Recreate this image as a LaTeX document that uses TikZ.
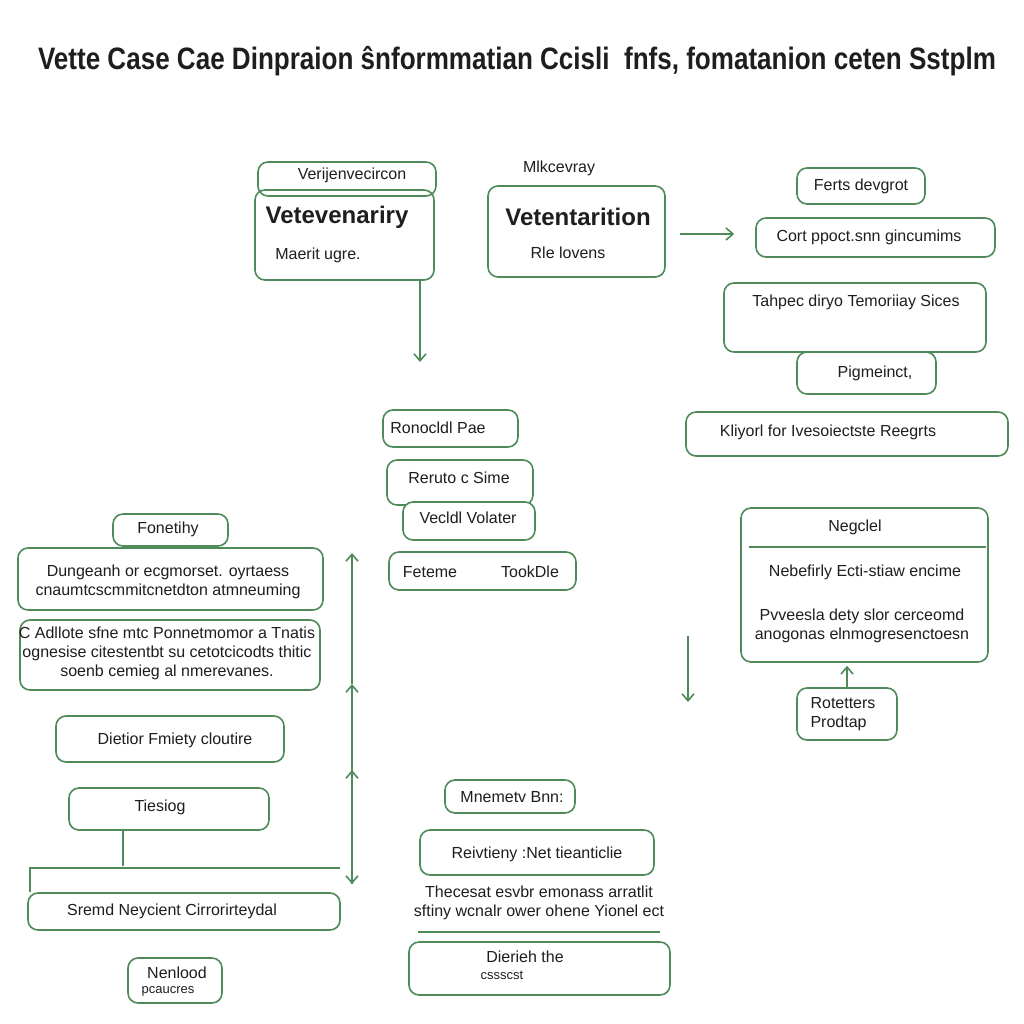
\documentclass[tikz,border=0pt]{standalone}
\usepackage{fontspec}
\setmainfont{Liberation Sans}
\usepackage{xcolor}
\usepackage{tikz}
\usetikzlibrary{arrows.meta, positioning, calc}
\definecolor{vetgreen}{HTML}{4E8A5A}
\definecolor{inkgray}{HTML}{1E1E1E}
\tikzstyle{card} = [draw=vetgreen, line width=1.6pt, rounded corners=10pt, inner sep=0pt]
\tikzstyle{txt} = [text=inkgray, font=\fontsize{16}{19}\selectfont, inner sep=0pt]
\tikzstyle{head} = [text=inkgray, font=\bfseries\fontsize{24}{28}\selectfont, inner sep=0pt]
\tikzstyle{small} = [text=inkgray, font=\fontsize{13}{16}\selectfont, inner sep=0pt]
\tikzstyle{link} = [draw=vetgreen, line width=1.6pt]
\tikzstyle{arrow} = [link, -{Straight Barb[length=7pt,width=12pt]}]

\begin{document}
\begin{tikzpicture}[x=1pt, y=-1pt]
        \useasboundingbox[fill=white] (0,0) rectangle (1024,1024);
        \node[text=inkgray, font=\bfseries\fontsize{31}{36}\selectfont] (title) at (517,61)
            {\scalebox{0.84}[1]{Vette Case Cae Dinpraion ŝnformmatian Ccisli\ \ fnfs, fomatanion ceten Sstplm}};

        % top left
        \node[card, minimum width=178pt, minimum height=34pt] (tabA) at (347,179) {};
        \node[txt] (tabAt) at (352,175) {Verijenvecircon};
        \node[card, minimum width=179pt, minimum height=90pt] (vetA) at (344.5,235) {};
        \node[head] (vetAh) at (337,217) {Vetevenariry};
        \node[txt] (vetAt) at (318,255) {Maerit ugre.};
        \coordinate (dropA) at (420,362);
        \draw[arrow] (vetA.south -| dropA) -- (dropA);

        \node[txt] (mlk) at (559,168) {Mlkcevray};
        \node[card, minimum width=177pt, minimum height=91pt] (vetB) at (576.5,231.5) {};
        \node[head] (vetBh) at (578,217) {Vetentarition};
        \node[txt] (vetBt) at (568,253) {Rle lovens};

        % right column
        \node[card, minimum width=128pt, minimum height=36pt] (ferts) at (861,186) {};
        \node[txt] (fertst) at (861,186) {Ferts devgrot};
        \node[card, minimum width=239pt, minimum height=39pt] (cort) at (875.5,237.5) {};
        \node[txt] (cortt) at (869,237) {Cort ppoct.snn gincumims};
        \coordinate (arrA) at (680,234);
        \draw[arrow, shorten >=21pt] (arrA) -- (arrA -| cort.west);
        \node[card, minimum width=262pt, minimum height=69pt] (tahp) at (855,317.5) {};
        \node[txt] (tahpt) at (856,302) {Tahpec diryo Temoriiay Sices};
        \node[card, minimum width=139pt, minimum height=42pt] (pigm) at (866.5,373) {};
        \node[txt] (pigmt) at (875,373) {Pigmeinct,};
        \node[card, minimum width=322pt, minimum height=44pt] (kliy) at (847,434) {};
        \node[txt] (kliyt) at (828,432) {Kliyorl for Ivesoiectste Reegrts};

        % middle column
        \node[card, minimum width=135pt, minimum height=37pt] (ronoc) at (450.5,428.5) {};
        \node[txt] (ronoct) at (438,428) {Ronocldl Pae};
        \node[card, minimum width=146pt, minimum height=45pt] (rerut) at (460,482.5) {};
        \node[txt] (rerutt) at (459,478) {Reruto c Sime};
        \node[card, fill=white, minimum width=132pt, minimum height=38pt] (vecl) at (469,521) {};
        \node[txt] (veclt) at (468,518) {Vecldl Volater};
        \node[card, minimum width=187pt, minimum height=38pt] (fete) at (482.5,571) {};
        \node[txt] (fetel) at (430,572) {Feteme};
        \node[txt] (feter) at (530,572) {TookDle};

        % left column
        \node[card, minimum width=115pt, minimum height=32pt] (fone) at (170.5,530) {};
        \node[txt] (fonet) at (168,529) {Fonetihy};
        \node[card, fill=white, minimum width=305pt, minimum height=62pt] (dung) at (170.5,579) {};
        \node[txt, align=center] (dungt) at (168,582)
            {Dungeanh or ecgmorset. oyrtaess\\cnaumtcscmmitcnetdton atmneuming};
        \node[card, minimum width=300pt, minimum height=70pt] (cadl) at (170,655) {};
        \node[txt, align=center] (cadlt) at (167,653)
            {C Adllote sfne mtc Ponnetmomor a Tnatis\\ognesise citestentbt su cetotcicodts thitic\\soenb cemieg al nmerevanes.};
        \node[card, minimum width=228pt, minimum height=46pt] (diet) at (170,739) {};
        \node[txt] (diett) at (175,740) {Dietior Fmiety cloutire};
        \node[card, minimum width=200pt, minimum height=42pt] (ties) at (169,809) {};
        \node[txt] (tiest) at (160,807) {Tiesiog};
        \node[card, minimum width=312pt, minimum height=37pt] (srem) at (184,911.5) {};
        \node[txt] (sremt) at (172,911) {Sremd Neycient Cirrorirteydal};
        \coordinate (sremTL) at (30,868);
        \coordinate (sremTR) at (340,868);
        \coordinate (sremK) at (123,866);
        \draw[link] (sremTR) -- (sremTL) -- (sremTL |- srem.north);
        \draw[link] (ties.south -| sremK) -- (sremK);
        \node[card, minimum width=94pt, minimum height=45pt] (nenl) at (175,980.5) {};
        \node[txt] (nenlt) at (177,973) {Nenlood};
        \node[small] (nenls) at (168,991) {pcaucres};

        % long vertical connector
        \coordinate (vtop) at (352,553);
        \coordinate (vm1) at (352,684);
        \coordinate (vm2) at (352,770);
        \coordinate (vbot) at (352,884);
        \draw[arrow] (vm1) -- (vtop);
        \draw[arrow] (vm2) -- (vm1);
        \draw[arrow] (vbot) -- (vm2);
        \draw[arrow] (vm2) -- (vbot);

        % right lower
        \node[card, minimum width=247pt, minimum height=154pt] (negc) at (864.5,585) {};
        \draw[link] ($(negc.north west)+(9,40)$) -- ($(negc.north east)+(-3,40)$);
        \node[txt] (negch) at (855,527) {Negclel};
        \node[txt] (negct) at (865,572) {Nebefirly Ecti-stiaw encime};
        \node[txt, align=center] (negcb) at (862,626)
            {Pvveesla dety slor cerceomd\\anogonas elnmogresenctoesn};
        \node[card, minimum width=100pt, minimum height=52pt] (rote) at (847,714) {};
        \node[txt, align=left] (rotet) at (843,714) {Rotetters\\Prodtap};
        \draw[arrow, shorten >=3pt] (rote.north) -- (rote.north |- negc.south);
        \coordinate (dropB) at (688,636);
        \coordinate (dropC) at (688,702);
        \draw[arrow] (dropB) -- (dropC);

        % bottom middle
        \node[card, minimum width=130pt, minimum height=33pt] (mnem) at (510,796.5) {};
        \node[txt] (mnemt) at (512,797) {Mnemetv Bnn:};
        \node[card, minimum width=234pt, minimum height=45pt] (reiv) at (537,852.5) {};
        \node[txt] (reivt) at (537,854) {Reivtieny :Net tieanticlie};
        \node[txt, align=center] (thec) at (539,903)
            {Thecesat esvbr emonass arratlit\\sftiny wcnalr ower ohene Yionel ect};
        \coordinate (sepL) at (418,932);
        \coordinate (sepR) at (660,932);
        \draw[link] (sepL) -- (sepR);
        \node[card, minimum width=261pt, minimum height=53pt] (dier) at (539.5,968.5) {};
        \node[txt] (diert) at (525,957) {Dierieh the};
        \node[small] (diers) at (502,975) {cssscst};
    \end{tikzpicture}
\end{document}
